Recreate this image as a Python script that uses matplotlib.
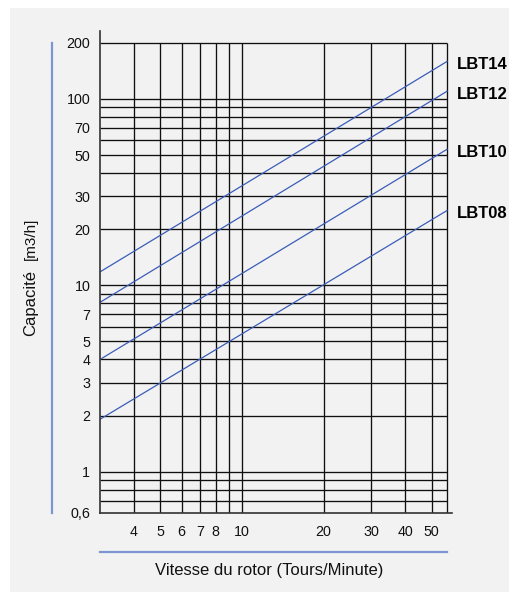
import numpy as np
import matplotlib.pyplot as plt
from matplotlib.lines import Line2D
from matplotlib.patches import Rectangle

plt.rcParams['font.family'] = ['Liberation Sans', 'DejaVu Sans']

# rotor speed range covered by the chart (Tours/Minute)
speed_ends = [3, 57]

# capacity at each end of the range (m3/h)
series_names = ['LBT14', 'LBT12', 'LBT10', 'LBT08']
capacity_ends = {
    'LBT14': [11.8, 159],
    'LBT12': [8.1, 110],
    'LBT10': [4.0, 53.7],
    'LBT08': [1.91, 25.2],
}

x_grid = [4, 5, 6, 7, 8, 9, 10, 20, 30, 40, 50]
x_labels = ['4', '5', '6', '7', '8', '', '10', '20', '30', '40', '50']

y_grid = [0.7, 0.8, 0.9, 1, 2, 3, 4, 5, 6, 7, 8, 9, 10,
          20, 30, 40, 50, 60, 70, 80, 90, 100, 200]
y_ticks = [0.6, 1, 2, 3, 4, 5, 7, 10, 20, 30, 50, 70, 100, 200]
y_labels = ['0,6', '1', '2', '3', '4', '5', '7', '10', '20', '30',
            '50', '70', '100', '200']

W, H = 509, 592
fig = plt.figure(figsize=(W / 100, H / 100), dpi=100, facecolor='white')
fig.add_artist(Rectangle((10 / W, 0), 1 - 10 / W, 1 - 8 / H,
                         transform=fig.transFigure, facecolor='#f2f2f2',
                         edgecolor='none', zorder=-10))

ax = fig.add_axes([100 / W, 79 / H, 351.7 / W, 482 / H])
ax.set_facecolor('none')
ax.set_xscale('log')
ax.set_yscale('log')
ax.set_xlim(3, 59.3)
ax.set_ylim(0.6, 231.6)

grid_col = '#101010'
ax.hlines(y_grid, speed_ends[0], speed_ends[1], colors=grid_col, lw=0.95)
ax.vlines(x_grid + [speed_ends[1]], 0.6, 200, colors=grid_col, lw=0.95)

for name in series_names:
    ax.plot(speed_ends, capacity_ends[name], color='#3b5cb8', lw=0.9)
    ax.annotate(name, (62, capacity_ends[name][1]), xytext=(0, -2.5),
                textcoords='offset points', fontsize=12, fontweight='bold',
                va='center', ha='left', annotation_clip=False)

for side in ['top', 'right']:
    ax.spines[side].set_visible(False)
for side in ['left', 'bottom']:
    ax.spines[side].set_color('#333333')
    ax.spines[side].set_linewidth(1.2)

ax.set_xticks(x_grid)
ax.set_xticklabels(x_labels)
ax.set_yticks(y_ticks)
ax.set_yticklabels(y_labels)
ax.minorticks_off()
ax.tick_params(axis='both', length=0, labelsize=10.3, colors='#111111')
ax.tick_params(axis='x', pad=9)
ax.tick_params(axis='y', pad=7)

# decorative blue rules beside the axes
fig.add_artist(Line2D([51.7 / W, 51.7 / W], [1 - 43 / H, 1 - 513 / H],
                      transform=fig.transFigure, color='#7d95d0', lw=1.6))
fig.add_artist(Line2D([100 / W, 446.7 / W], [1 - 552 / H, 1 - 552 / H],
                      transform=fig.transFigure, color='#7d95d0', lw=1.6))

fig.text(31 / W, 1 - 302.5 / H, 'Capacité', rotation=90,
         fontsize=12, ha='center', va='center', color='#111111')
fig.text(31 / W, 1 - 239 / H, '[m3/h]', rotation=90,
         fontsize=11, ha='center', va='center', color='#111111')
fig.text(269 / W, 1 - 571 / H, 'Vitesse du rotor (Tours/Minute)',
         fontsize=12, ha='center', va='center', color='#111111')

plt.savefig('out.png', dpi=100)
